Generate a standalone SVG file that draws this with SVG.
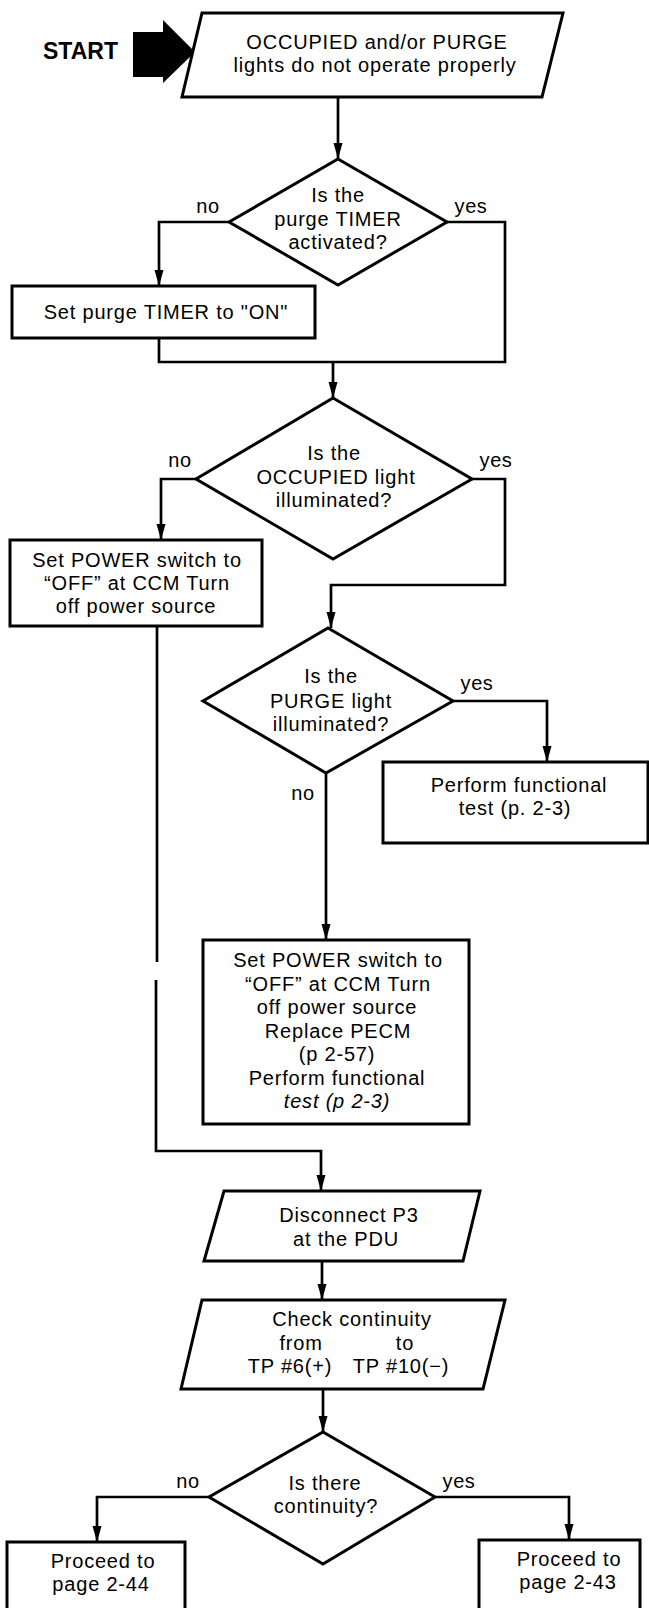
<svg xmlns="http://www.w3.org/2000/svg" width="649" height="1608" viewBox="0 0 649 1608">
  <style>
    .shape { fill: #fff; stroke: #000; stroke-width: 3; stroke-linejoin: miter; }
    .wire { fill: none; stroke: #000; stroke-width: 2.7; }
    .txt { font-family: "Liberation Sans", Arial, sans-serif; font-size: 20px; letter-spacing: 0.8px; fill: #000; text-anchor: middle; }
    .lbl { font-family: "Liberation Sans", Arial, sans-serif; font-size: 20px; letter-spacing: 0.6px; fill: #000; text-anchor: middle; }
    .start { font-family: "Liberation Sans", Arial, sans-serif; font-size: 23px; font-weight: bold; fill: #000; }
  </style>
  <defs>
    <marker id="arrow" viewBox="0 0 16 10" refX="16" refY="5" markerWidth="16" markerHeight="10" markerUnits="userSpaceOnUse" orient="auto">
      <path d="M0,0.5 L16,5 L0,9.5 Z" fill="#000"/>
    </marker>
  </defs>

  <rect x="0" y="0" width="649" height="1608" fill="#fff"/>

  <!-- entry marker -->
  <g id="start">
    <text class="start" x="43" y="59">START</text>
    <polygon points="133,32 163,32 163,20 195,52 163,83 163,77 133,77" fill="#000"/>
  </g>

  <!-- connectors -->
  <g id="connectors" class="wire">
    <path d="M338,97 V159" marker-end="url(#arrow)"/>
    <path d="M229,222 H159 V286" marker-end="url(#arrow)"/>
    <path d="M159,338 V362 H505 V222 H447"/>
    <path d="M333,362 V398" marker-end="url(#arrow)"/>
    <path d="M196,479 H161 V540" marker-end="url(#arrow)"/>
    <path d="M472,479 H505 V585 H331 V628" marker-end="url(#arrow)"/>
    <path d="M453,701 H547 V762" marker-end="url(#arrow)"/>
    <path d="M326,773 V940" marker-end="url(#arrow)"/>
    <path d="M157,626 V962"/>
    <path d="M156,980 V1151 H321 V1191" marker-end="url(#arrow)"/>
    <path d="M322,1261 V1300" marker-end="url(#arrow)"/>
    <path d="M323,1389 V1432" marker-end="url(#arrow)"/>
    <path d="M209,1497 H97 V1542" marker-end="url(#arrow)"/>
    <path d="M435,1497 H569 V1540" marker-end="url(#arrow)"/>
  </g>

  <g id="problem">
    <polygon class="shape" points="202,13 563,13 542,97 182,97"/>
    <text class="txt" x="377" y="49">OCCUPIED and/or PURGE</text>
    <text class="txt" x="375" y="72">lights do not operate properly</text>
  </g>

  <g id="timer-check">
    <polygon class="shape" points="338,159 447,222 338,285 229,222"/>
    <text class="txt" x="338" y="202">Is the</text>
    <text class="txt" x="338" y="226">purge TIMER</text>
    <text class="txt" x="338" y="249">activated?</text>
    <text class="lbl" x="208" y="213">no</text>
    <text class="lbl" x="471" y="213">yes</text>
  </g>

  <g id="set-timer">
    <rect class="shape" x="12" y="286" width="303" height="52"/>
    <text class="txt" x="166" y="319">Set purge TIMER to "ON"</text>
  </g>

  <g id="occupied-check">
    <polygon class="shape" points="333,398 472,479 333,559 196,479"/>
    <text class="txt" x="334" y="460">Is the</text>
    <text class="txt" x="336" y="484">OCCUPIED light</text>
    <text class="txt" x="334" y="507">illuminated?</text>
    <text class="lbl" x="180" y="467">no</text>
    <text class="lbl" x="496" y="467">yes</text>
  </g>

  <g id="power-off">
    <rect class="shape" x="10" y="540" width="252" height="86"/>
    <text class="txt" x="137" y="567">Set POWER switch to</text>
    <text class="txt" x="137" y="590">“OFF” at CCM  Turn</text>
    <text class="txt" x="136" y="613">off power source</text>
  </g>

  <g id="purge-check">
    <polygon class="shape" points="328,628 453,701 326,773 203,701"/>
    <text class="txt" x="331" y="683">Is the</text>
    <text class="txt" x="331" y="708">PURGE light</text>
    <text class="txt" x="331" y="731">illuminated?</text>
    <text class="lbl" x="477" y="690">yes</text>
    <text class="lbl" x="303" y="800">no</text>
  </g>

  <g id="functional-test">
    <rect class="shape" x="383" y="762" width="265" height="81"/>
    <text class="txt" x="519" y="792">Perform functional</text>
    <text class="txt" x="515" y="815">test (p. 2-3)</text>
  </g>

  <g id="replace-pecm">
    <rect class="shape" x="203" y="940" width="266" height="184"/>
    <text class="txt" x="338" y="967">Set POWER switch to</text>
    <text class="txt" x="338" y="991">“OFF” at CCM  Turn</text>
    <text class="txt" x="337" y="1014">off power source</text>
    <text class="txt" x="338" y="1038">Replace PECM</text>
    <text class="txt" x="337" y="1061">(p  2-57)</text>
    <text class="txt" x="337" y="1085">Perform functional</text>
    <text class="txt" x="337" y="1108" font-style="italic">test (p  2-3)</text>
  </g>

  <g id="disconnect-p3">
    <polygon class="shape" points="224,1191 480,1191 463,1261 204,1261"/>
    <text class="txt" x="349" y="1222">Disconnect P3</text>
    <text class="txt" x="346" y="1246">at the PDU</text>
  </g>

  <g id="continuity-step">
    <polygon class="shape" points="202,1300 505,1300 483,1389 181,1389"/>
    <text class="txt" x="352" y="1326">Check continuity</text>
    <text class="txt" x="301" y="1350">from</text>
    <text class="txt" x="405" y="1350">to</text>
    <text class="txt" x="290" y="1373">TP #6(+)</text>
    <text class="txt" x="401" y="1373">TP #10(−)</text>
  </g>

  <g id="continuity-check">
    <polygon class="shape" points="323,1432 435,1497 323,1564 209,1497"/>
    <text class="txt" x="325" y="1490">Is there</text>
    <text class="txt" x="326" y="1513">continuity?</text>
    <text class="lbl" x="188" y="1488">no</text>
    <text class="lbl" x="459" y="1488">yes</text>
  </g>

  <g id="page-2-44">
    <rect class="shape" x="7" y="1542" width="178" height="80"/>
    <text class="txt" x="103" y="1568">Proceed to</text>
    <text class="txt" x="101" y="1591">page 2-44</text>
  </g>

  <g id="page-2-43">
    <rect class="shape" x="479" y="1540" width="161" height="80"/>
    <text class="txt" x="569" y="1566">Proceed to</text>
    <text class="txt" x="568" y="1589">page 2-43</text>
  </g>
</svg>
